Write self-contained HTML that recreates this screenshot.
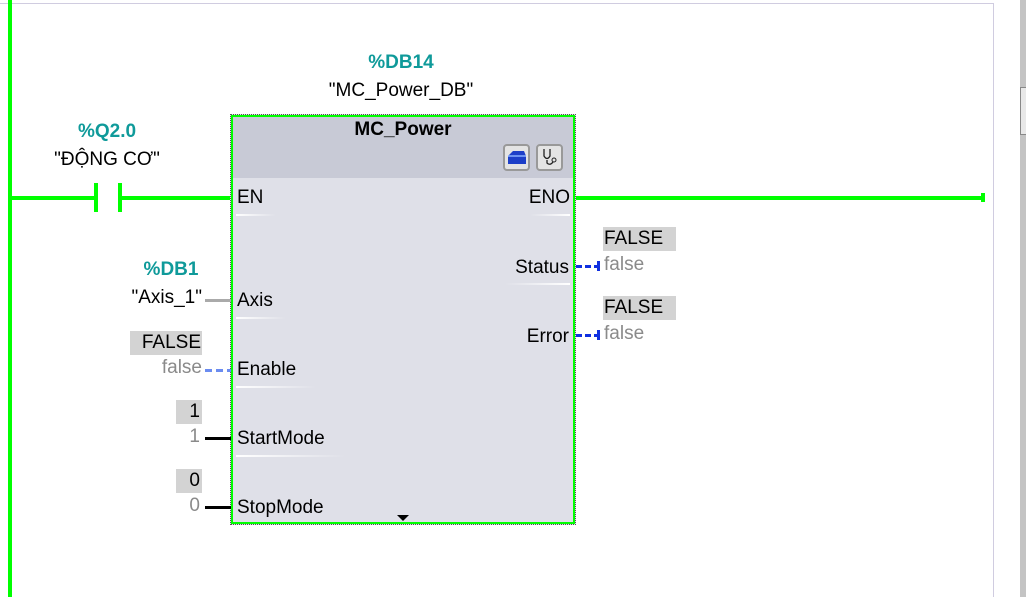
<!DOCTYPE html>
<html><head><meta charset="utf-8"><style>
*{margin:0;padding:0;box-sizing:border-box}
body{width:1026px;height:597px;background:#fff;position:relative;overflow:hidden;font-family:"Liberation Sans","DejaVu Sans",sans-serif;font-size:19px;color:#000}
div{position:absolute}
.t{white-space:nowrap;line-height:22px}
.c{transform:translateX(-50%)}
.r{transform:translateX(-100%)}
.teal{color:#0f9a9a;font-weight:bold}
.g{background:#0f0}
.box{background:#d3d3d3}
.grey{color:#8a8a8a}
.ul{height:2px;background:linear-gradient(90deg,#fff,rgba(255,255,255,0))}
.ulr{height:2px;background:linear-gradient(270deg,#fff,rgba(255,255,255,0))}
</style></head><body>
<div style="left:0;top:3px;width:994px;height:1px;background:#d0cce0"></div>
<div style="left:993px;top:3px;width:1px;height:594px;background:#d0cce0"></div>
<div style="left:1020px;top:0;width:6px;height:597px;background:#c4c4c4"></div>
<div style="left:1020px;top:87px;width:6px;height:48px;background:#e8e8e8;border:1px solid #888;border-right:none"></div>
<div class="g" style="left:8px;top:0;width:4px;height:597px"></div>
<div class="g" style="left:10px;top:196px;width:86px;height:4px"></div>
<div class="g" style="left:94px;top:183px;width:4px;height:29px"></div>
<div class="g" style="left:118px;top:183px;width:4px;height:29px"></div>
<div class="g" style="left:120px;top:196px;width:111px;height:4px"></div>
<div class="g" style="left:574px;top:196px;width:409px;height:4px"></div>
<div class="g" style="left:981px;top:193px;width:4px;height:9px"></div>
<div class="t teal c" style="left:107px;top:121px">%Q2.0</div>
<div class="t c" style="left:107px;top:149px">"ĐỘNG CƠ"</div>
<div class="t teal c" style="left:401px;top:52px">%DB14</div>
<div class="t c" style="left:401px;top:80px">"MC_Power_DB"</div>
<div style="left:230px;top:114px;width:346px;height:411px;border:1px dotted #555;background:#dfe0e8"></div>
<div style="left:232px;top:116px;width:342px;height:62px;background:#c8cad6"></div>
<div style="left:231px;top:115px;width:344px;height:409px;border:2px solid #0f0"></div>
<div class="t c" style="left:403px;top:119px;font-weight:bold">MC_Power</div>
<div style="left:503px;top:144px;width:27px;height:27px;border:2px solid #999;border-radius:4px;background:#e4e4e4"><svg width="23" height="23"><path d="M3 10 L8 5 H19 L21 10 V18 H3 Z" fill="#1d3fc8"/><path d="M3 10 H21" stroke="#8ab0ff" stroke-width="1.5"/></svg></div>
<div style="left:536px;top:144px;width:27px;height:27px;border:2px solid #999;border-radius:4px;background:#e4e4e4"><svg width="23" height="23"><path d="M6 3 V10 Q9 15 12 10 V3 M9 14 V17 Q12 20 15 16" stroke="#222" fill="none" stroke-width="1.3"/><circle cx="16" cy="14" r="2" stroke="#222" fill="none"/></svg></div>
<div class="t" style="left:237px;top:187px">EN</div>
<div class="ul" style="left:236px;top:214px;width:40px"></div>
<div class="t r" style="left:570px;top:187px">ENO</div>
<div class="ulr" style="left:530px;top:214px;width:40px"></div>
<div class="t r" style="left:569px;top:257px">Status</div>
<div class="ulr" style="left:505px;top:283px;width:65px"></div>
<div class="t r" style="left:569px;top:326px">Error</div>
<div class="t" style="left:237px;top:290px">Axis</div>
<div class="ul" style="left:236px;top:317px;width:50px"></div>
<div class="t" style="left:237px;top:359px">Enable</div>
<div class="ul" style="left:236px;top:386px;width:80px"></div>
<div class="t" style="left:237px;top:428px">StartMode</div>
<div class="ul" style="left:236px;top:455px;width:110px"></div>
<div class="t" style="left:237px;top:497px">StopMode</div>
<div style="left:397px;top:515px;width:0;height:0;border-left:6px solid transparent;border-right:6px solid transparent;border-top:6px solid #000"></div>
<div class="t teal c" style="left:171px;top:259px">%DB1</div>
<div class="t r" style="left:202px;top:287px">"Axis_1"</div>
<div style="left:205px;top:299px;width:26px;height:3px;background:#aaa"></div>
<div class="box" style="left:130px;top:331px;width:72px;height:24px"></div>
<div class="t r" style="left:201px;top:332px">FALSE</div>
<div class="t r grey" style="left:202px;top:357px">false</div>
<div style="left:205px;top:369px;width:26px;height:3px;background:repeating-linear-gradient(90deg,#6b8cf0 0 7px,transparent 7px 11px)"></div>
<div class="box" style="left:176px;top:400px;width:26px;height:24px"></div>
<div class="t r" style="left:200px;top:401px">1</div>
<div class="t r grey" style="left:200px;top:426px">1</div>
<div style="left:205px;top:437px;width:26px;height:3px;background:#000"></div>
<div class="box" style="left:176px;top:469px;width:26px;height:24px"></div>
<div class="t r" style="left:200px;top:470px">0</div>
<div class="t r grey" style="left:200px;top:495px">0</div>
<div style="left:205px;top:506px;width:26px;height:3px;background:#000"></div>
<div class="box" style="left:603px;top:227px;width:73px;height:24px"></div>
<div class="t" style="left:604px;top:228px">FALSE</div>
<div class="t grey" style="left:604px;top:254px">false</div>
<div style="left:576px;top:265px;width:22px;height:3px;background:repeating-linear-gradient(90deg,#1030e0 0 6px,transparent 6px 9px)"></div>
<div style="left:597px;top:261px;width:3px;height:10px;background:#1030e0"></div>
<div class="box" style="left:603px;top:296px;width:73px;height:24px"></div>
<div class="t" style="left:604px;top:297px">FALSE</div>
<div class="t grey" style="left:604px;top:323px">false</div>
<div style="left:576px;top:334px;width:22px;height:3px;background:repeating-linear-gradient(90deg,#1030e0 0 6px,transparent 6px 9px)"></div>
<div style="left:597px;top:330px;width:3px;height:10px;background:#1030e0"></div>
</body></html>
